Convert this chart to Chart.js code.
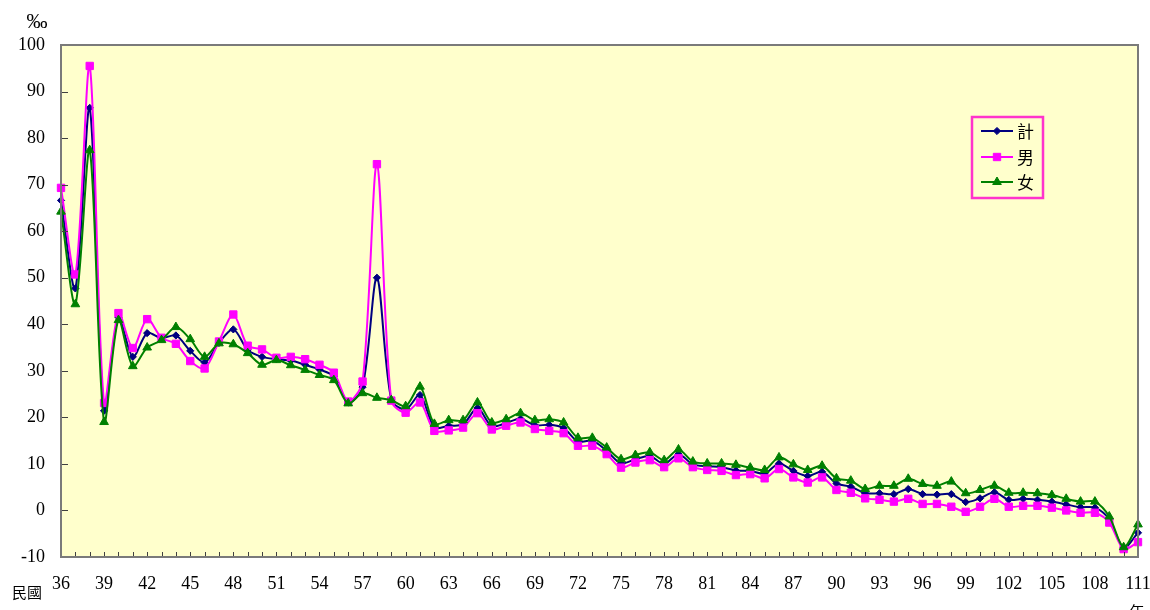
<!DOCTYPE html>
<html>
<head>
<meta charset="utf-8">
<script src="https://cdn.jsdelivr.net/npm/chart.js@4.4.1/dist/chart.umd.min.js"></script>
<style>
html,body{margin:0;padding:0;background:#fff;}
#wrap{position:relative;width:1150px;height:610px;}
</style>
</head>
<body>
<div id="wrap"><canvas id="c" width="1150" height="610"></canvas></div>
<script>
const years = ["36","37","38","39","40","41","42","43","44","45","46","47","48","49","50","51","52","53","54","55","56","57","58","59","60","61","62","63","64","65","66","67","68","69","70","71","72","73","74","75","76","77","78","79","80","81","82","83","84","85","86","87","88","89","90","91","92","93","94","95","96","97","98","99","100","101","102","103","104","105","106","107","108","109","110","111"];
const totalRate = [66.6,47.7,86.5,21.4,41.5,33.0,38.1,37.0,37.6,34.3,31.8,36.0,38.9,34.5,33.0,32.5,32.2,31.3,30.3,28.8,23.2,26.5,50.0,23.8,21.7,24.8,17.8,18.2,18.5,22.0,18.1,18.8,19.7,18.3,18.4,17.7,14.8,15.0,12.8,10.1,11.0,11.7,10.0,12.1,9.9,9.5,9.3,8.6,8.5,7.9,10.1,8.5,7.4,8.3,5.8,5.1,3.7,3.7,3.5,4.6,3.5,3.4,3.5,1.8,2.6,3.9,2.3,2.5,2.3,1.9,1.3,0.7,0.6,-1.9,-8.0,-4.8];
const maleRate = [69.3,50.7,95.5,23.1,42.4,34.9,41.1,37.1,35.8,32.1,30.5,36.3,42.1,35.4,34.6,32.8,33.0,32.5,31.3,29.6,23.4,27.7,74.4,23.6,21.0,23.2,17.1,17.2,17.8,20.9,17.4,18.2,18.9,17.5,17.1,16.6,13.9,13.9,12.1,9.2,10.3,10.8,9.3,11.2,9.3,8.7,8.5,7.6,7.8,6.9,8.9,7.1,6.0,7.1,4.4,3.8,2.6,2.3,1.9,2.5,1.4,1.4,0.8,-0.3,0.8,2.5,0.8,1.0,1.0,0.6,0.0,-0.5,-0.5,-2.6,-8.3,-6.8];
const femaleRate = [64.2,44.3,77.4,19.0,40.9,31.0,35.0,36.6,39.4,36.8,33.0,35.9,35.7,33.8,31.3,32.3,31.2,30.2,29.1,28.0,23.0,25.2,24.2,23.7,22.4,26.6,18.6,19.4,19.4,23.2,18.9,19.6,20.9,19.4,19.6,18.9,15.6,15.6,13.5,11.0,11.9,12.5,10.8,13.1,10.5,10.1,10.1,9.8,9.2,8.7,11.4,9.9,8.7,9.6,6.9,6.4,4.6,5.3,5.3,6.8,5.7,5.3,6.2,3.7,4.4,5.3,3.8,3.8,3.7,3.3,2.5,1.9,1.9,-1.3,-7.9,-3.0];
const seriesNames = ["計","男","女"];
const xTickLabels = ["36","39","42","45","48","51","54","57","60","63","66","69","72","75","78","81","84","87","90","93","96","99","102","105","108","111"];
const yMin = -10, yMax = 100, yStep = 10;
const unitLabel = "‰";
const xPrefix = "民國";
const xSuffix = "年";

const NUM_FONT = "'Liberation Serif','Times New Roman',serif";
const CJK_FONT = "'Noto Sans CJK TC','Noto Sans CJK SC',sans-serif";

const styles = [
  {color:"#000080", pointStyle:"rectRot", radius:3.6, order:2},
  {color:"#FF00FF", pointStyle:"rect", radius:5.2, order:1},
  {color:"#008000", pointStyle:"triangle", radius:5, order:0}
];
const seriesData = [totalRate, maleRate, femaleRate];

const datasets = seriesData.map((d,i)=>({
  label: seriesNames[i],
  data: d,
  borderColor: styles[i].color,
  backgroundColor: styles[i].color,
  pointBackgroundColor: styles[i].color,
  pointBorderColor: styles[i].color,
  pointStyle: styles[i].pointStyle,
  pointRadius: styles[i].radius,
  pointHoverRadius: styles[i].radius,
  pointBorderWidth: 1,
  borderWidth: 2,
  tension: 0.3,
  order: styles[i].order,
  clip: 10
}));

function drawMarker(ctx, style, x, y, r, color){
  ctx.save();
  ctx.fillStyle = color; ctx.strokeStyle = color; ctx.lineWidth = 1;
  ctx.beginPath();
  if (style === "rect") {
    const s = r*Math.SQRT1_2;
    ctx.rect(x-s, y-s, 2*s, 2*s);
  } else if (style === "rectRot") {
    ctx.moveTo(x, y-r); ctx.lineTo(x+r, y); ctx.lineTo(x, y+r); ctx.lineTo(x-r, y); ctx.closePath();
  } else {
    const h = r*1.5, w = r*Math.sqrt(3);
    ctx.moveTo(x, y-r); ctx.lineTo(x+w/2, y+h-r); ctx.lineTo(x-w/2, y+h-r); ctx.closePath();
  }
  ctx.fill(); ctx.stroke();
  ctx.restore();
}

const framePlugin = {
  id: "frame",
  beforeDatasetsDraw(chart){
    const {ctx, chartArea:a} = chart;
    ctx.save();
    ctx.fillStyle = "#FFFFCC";
    ctx.fillRect(a.left, a.top, a.right-a.left, a.bottom-a.top);
    ctx.restore();
  },
  afterDatasetsDraw(chart){
    const {ctx, chartArea:a, scales} = chart;
    ctx.save();
    ctx.strokeStyle = "#404040"; ctx.lineWidth = 1;
    ctx.beginPath();
    for (let v = yMin; v <= yMax; v += yStep) {
      const y = Math.round(scales.y.getPixelForValue(v)) + 0.5;
      ctx.moveTo(a.left, y); ctx.lineTo(a.left+7, y);
    }
    for (let i = 0; i < years.length; i++) {
      const x = Math.round(scales.x.getPixelForValue(i)) + 0.5;
      ctx.moveTo(x, a.bottom); ctx.lineTo(x, a.bottom-5);
    }
    ctx.stroke();
    ctx.strokeStyle = "#7a7a7a"; ctx.lineWidth = 2;
    ctx.strokeRect(a.left, a.top, a.right-a.left, a.bottom-a.top);
    ctx.restore();
  },
  afterDraw(chart){
    const {ctx} = chart;
    ctx.save();
    ctx.fillStyle = "#000";
    ctx.font = "21px " + NUM_FONT;
    ctx.textAlign = "center"; ctx.textBaseline = "middle";
    ctx.fillText(unitLabel, 37, 22);
    ctx.font = "15px " + CJK_FONT;
    ctx.fillText(xPrefix, 27, 592);
    ctx.fillText(xSuffix, 1137, 611);
    const bx = 972, by = 117, bw = 71, bh = 81;
    ctx.fillStyle = "#FFFFCC";
    ctx.fillRect(bx, by, bw, bh);
    ctx.strokeStyle = "#FF33CC"; ctx.lineWidth = 2.5;
    ctx.strokeRect(bx, by, bw, bh);
    const rows = [131, 157, 182];
    chart.data.datasets.forEach((ds,i)=>{
      const y = rows[i];
      ctx.strokeStyle = ds.borderColor; ctx.lineWidth = 2;
      ctx.beginPath(); ctx.moveTo(981, y); ctx.lineTo(1013, y); ctx.stroke();
      drawMarker(ctx, ds.pointStyle, 997, y, ds.pointRadius, ds.borderColor);
      ctx.fillStyle = "#000";
      ctx.font = "17px " + CJK_FONT;
      ctx.textAlign = "left"; ctx.textBaseline = "middle";
      ctx.fillText(ds.label, 1017, y+1);
    });
    ctx.restore();
  }
};

new Chart(document.getElementById("c"), {
  type: "line",
  data: { labels: years, datasets },
  plugins: [framePlugin],
  options: {
    responsive: false,
    animation: false,
    events: [],
    layout: { padding: { left: 0, top: 45, right: 12, bottom: 0 } },
    plugins: { legend: { display: false }, tooltip: { enabled: false }, title: { display: false } },
    scales: {
      x: {
        type: "category",
        offset: false,
        grid: { display: false },
        border: { display: false },
        ticks: {
          autoSkip: false, maxRotation: 0, minRotation: 0,
          padding: 8,
          color: "#000",
          font: { family: NUM_FONT, size: 18 },
          callback: function(val, idx){ const l = years[idx]; return xTickLabels.includes(l) ? l : ""; }
        },
        afterFit(s){ s.height = 53; s.paddingLeft = 0; s.paddingRight = 0; }
      },
      y: {
        min: yMin, max: yMax,
        grid: { display: false },
        border: { display: false },
        ticks: {
          stepSize: yStep,
          padding: 8,
          color: "#000",
          font: { family: NUM_FONT, size: 18 }
        },
        afterFit(s){ s.width = 61; s.paddingTop = 0; s.paddingBottom = 0; }
      }
    }
  }
});
</script>
</body>
</html>
